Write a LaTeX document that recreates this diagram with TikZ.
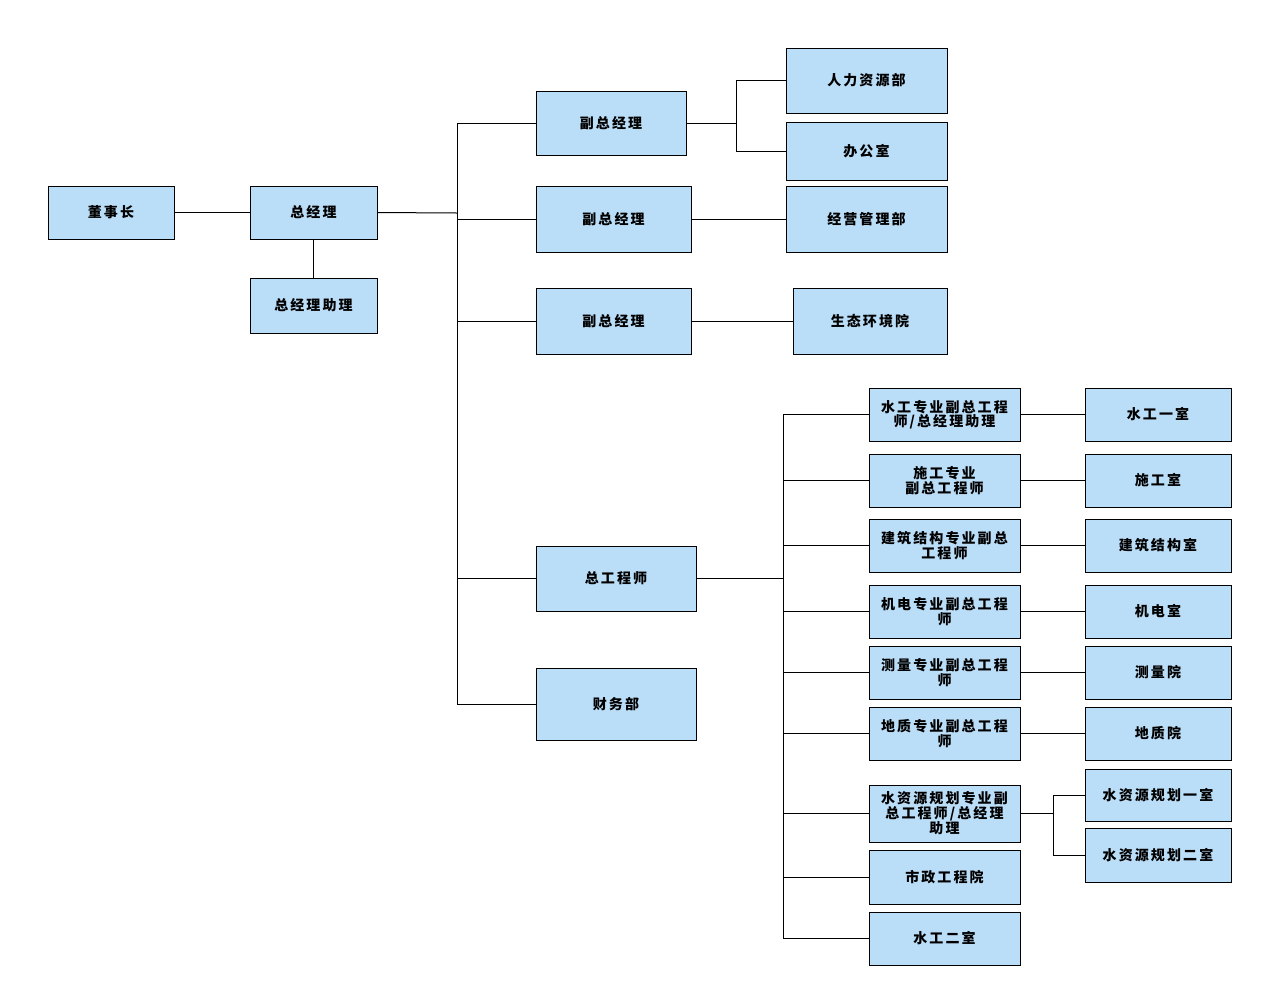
\documentclass[tikz,border=0pt]{standalone}
\usepackage{fontspec}
\newfontfamily\cjk[LetterSpace=15]{Noto Sans CJK SC}
\definecolor{boxfill}{RGB}{187,222,248}
\begin{document}
\begin{tikzpicture}[x=1pt,y=-1pt,
  box/.style={draw=black,line width=1pt,fill=boxfill,inner sep=0pt,align=center,
    font=\cjk\bfseries\fontsize{14}{14.5}\selectfont},
  link/.style={draw=black,line width=1pt}]
\fill[white] (0,0) rectangle (1262,997);
\useasboundingbox (0,0) rectangle (1262,997);
% level 1-2
\node[box,minimum width=126pt,minimum height=53pt] (ds) at (111,212.5) {董事长};
\node[box,minimum width=127pt,minimum height=53pt] (zjl) at (313.5,212.5) {总经理};
\node[box,minimum width=127pt,minimum height=55pt] (zjlzl) at (313.5,305.5) {总经理助理};
% level 3
\node[box,minimum width=150pt,minimum height=64pt] (f1) at (611,123) {副总经理};
\node[box,minimum width=155pt,minimum height=66pt] (f2) at (613.5,219) {副总经理};
\node[box,minimum width=155pt,minimum height=66pt] (f3) at (613.5,321) {副总经理};
\node[box,minimum width=160pt,minimum height=65pt] (zgcs) at (616,578.5) {总工程师};
\node[box,minimum width=160pt,minimum height=72pt] (cwb) at (616,704) {财务部};
% level 4 (top)
\node[box,minimum width=161pt,minimum height=65pt] (rl) at (866.5,80.5) {人力资源部};
\node[box,minimum width=161pt,minimum height=58pt] (bgs) at (866.5,151) {办公室};
\node[box,minimum width=161pt,minimum height=66pt] (jy) at (866.5,219) {经营管理部};
\node[box,minimum width=154pt,minimum height=66pt] (st) at (870,321) {生态环境院};
% chief engineer column
\node[box,minimum width=151pt,minimum height=53pt] (a1) at (944.5,414.5) {水工专业副总工程\\师/总经理助理};
\node[box,minimum width=151pt,minimum height=53pt] (a2) at (944.5,480.5) {施工专业\\副总工程师};
\node[box,minimum width=151pt,minimum height=53pt] (a3) at (944.5,545.5) {建筑结构专业副总\\工程师};
\node[box,minimum width=151pt,minimum height=53pt] (a4) at (944.5,611.5) {机电专业副总工程\\师};
\node[box,minimum width=151pt,minimum height=53pt] (a5) at (944.5,672.5) {测量专业副总工程\\师};
\node[box,minimum width=151pt,minimum height=53pt] (a6) at (944.5,733.5) {地质专业副总工程\\师};
\node[box,minimum width=151pt,minimum height=57pt] (a7) at (944.5,813.5) {水资源规划专业副\\总工程师/总经理\\助理};
\node[box,minimum width=151pt,minimum height=54pt] (a8) at (944.5,877) {市政工程院};
\node[box,minimum width=151pt,minimum height=53pt] (a9) at (944.5,938.5) {水工二室};
% rightmost column
\node[box,minimum width=146pt,minimum height=53pt] (b1) at (1158,414.5) {水工一室};
\node[box,minimum width=146pt,minimum height=53pt] (b2) at (1158,480.5) {施工室};
\node[box,minimum width=146pt,minimum height=53pt] (b3) at (1158,545.5) {建筑结构室};
\node[box,minimum width=146pt,minimum height=53pt] (b4) at (1158,611.5) {机电室};
\node[box,minimum width=146pt,minimum height=53pt] (b5) at (1158,672.5) {测量院};
\node[box,minimum width=146pt,minimum height=53pt] (b6) at (1158,733.5) {地质院};
\node[box,minimum width=146pt,minimum height=52pt] (b7) at (1158,795) {水资源规划一室};
\node[box,minimum width=146pt,minimum height=54pt] (b8) at (1158,855) {水资源规划二室};
% junction points
\coordinate (tr) at (457,213);
\coordinate (s1) at (736,123);
\coordinate (t2) at (783,578.5);
\coordinate (s2) at (1053,813.5);
% connectors
\draw[link] (ds.east) -- (zjl.west);
\draw[link] (zjl.south) -- (zjlzl.north);
\draw[link] (zjl.east) -- (tr);
\foreach \n in {f1,f2,f3,zgcs,cwb} \draw[link] (\n.west) -| (tr);
\draw[link] (f1.east) -- (s1);
\draw[link] (rl.west) -| (s1);
\draw[link] (bgs.west) -| (s1);
\draw[link] (f2.east) -- (jy.west);
\draw[link] (f3.east) -- (st.west);
\draw[link] (zgcs.east) -- (t2);
\foreach \n in {a1,a2,a3,a4,a5,a6,a7,a8,a9} \draw[link] (\n.west) -| (t2);
\foreach \i in {1,...,6} \draw[link] (a\i.east) -- (b\i.west);
\draw[link] (a7.east) -- (s2);
\draw[link] (b7.west) -| (s2);
\draw[link] (b8.west) -| (s2);
\end{tikzpicture}
\end{document}
